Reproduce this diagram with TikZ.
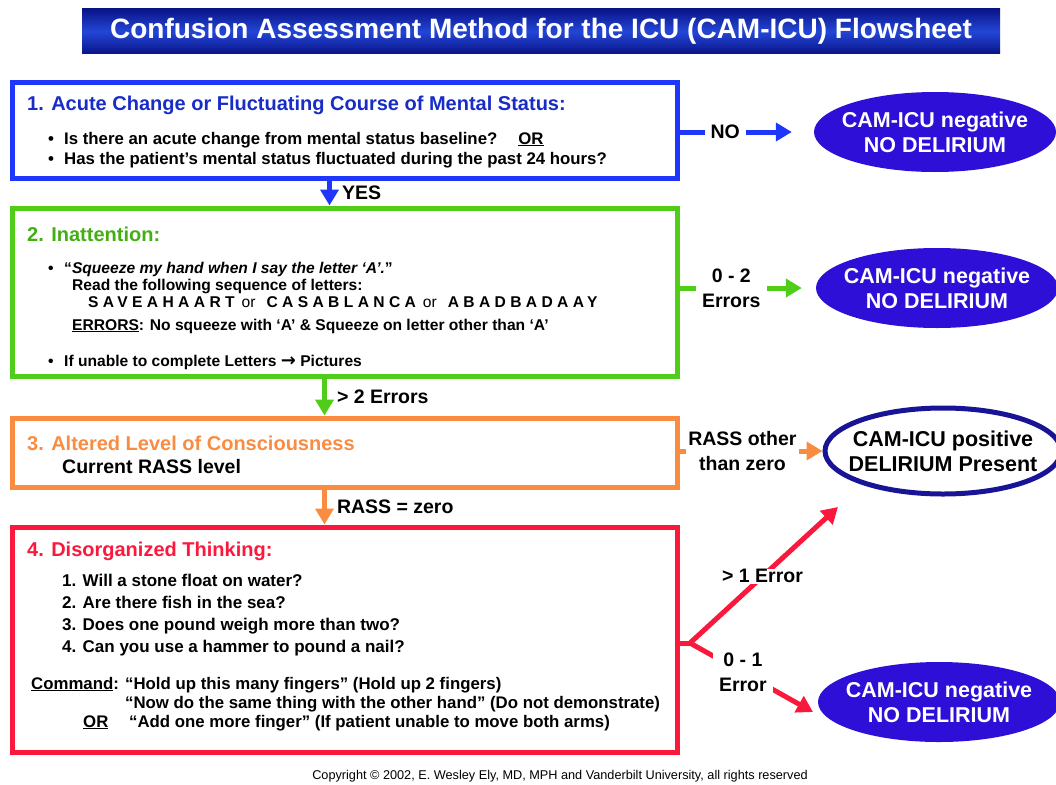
\documentclass[tikz,border=0pt]{standalone}
\usepackage{fontspec}
\setmainfont{Liberation Sans}
\newfontfamily\arrowfont{DejaVu Sans}
\usetikzlibrary{shapes.geometric,arrows.meta}
\definecolor{camblue}{RGB}{30,55,250}
\definecolor{camgreen}{RGB}{80,205,25}
\definecolor{camorange}{RGB}{250,140,65}
\definecolor{camred}{RGB}{250,25,60}
\definecolor{camnavy}{RGB}{25,20,150}
\definecolor{camviolet}{RGB}{45,15,215}
\definecolor{bardark}{RGB}{10,20,135}
\definecolor{barlight}{RGB}{35,70,215}
\newcommand{\bul}{\makebox[16pt][l]{\textbullet}}
\newcommand{\spaced}[1]{{\addfontfeature{LetterSpace=28}#1}}
\begin{document}
\begin{tikzpicture}
[x=1pt,y=-1pt,
  stepbox/.style={draw=#1,line width=5pt,fill=white,minimum width=665pt,inner sep=0pt},
  steptitle/.style={anchor=base west,inner sep=0pt,text=#1,font=\bfseries\fontsize{20}{24}\selectfont},
  steptext/.style={anchor=base west,inner sep=0pt,font=\bfseries\fontsize{16.8}{20}\selectfont},
  smalltext/.style={anchor=base west,inner sep=0pt,font=\bfseries\fontsize{15.6}{18}\selectfont},
  outcome/.style={ellipse,fill=camviolet,text=white,minimum width=242pt,minimum height=80pt,inner xsep=-8pt,inner ysep=0pt,
    align=center,font=\bfseries\fontsize{21.5}{25}\selectfont},
  flow/.style={draw=#1,line width=5pt,-{Triangle[length=16pt,width=18pt]}},
  flowlabel/.style={fill=white,inner xsep=6pt,inner ysep=1pt,align=center,font=\bfseries\fontsize{19.5}{25}\selectfont},
  downlabel/.style={right,xshift=10pt,inner sep=0pt,font=\bfseries\fontsize{19.5}{25}\selectfont}]
\useasboundingbox (0,0) rectangle (1056,784);
%% title bar
\node[minimum width=918pt,minimum height=45pt,inner sep=0pt,top color=bardark,bottom color=bardark,middle color=barlight,
  text=white,font=\bfseries\fontsize{28}{32}\selectfont] (title) at (541,31.5)
  {Confusion Assessment Method for the ICU (CAM-ICU) Flowsheet};
%% the four steps
\node[stepbox=camblue,minimum height=96pt] (box1) at (344.5,130) {};
\node[stepbox=camgreen,minimum height=168pt] (box2) at (344.5,292) {};
\node[stepbox=camorange,minimum height=69pt] (box3) at (344.5,452.5) {};
\node[stepbox=camred,minimum height=225pt] (box4) at (344.5,639.5) {};
%% step 1
\node[steptitle=camblue!80!black] (t1) at (27,110) {1. Acute Change or Fluctuating Course of Mental Status:};
\node[steptext] (b1a) at (48,144) {\bul Is there an acute change from mental status baseline?\hspace{21pt}\underline{OR}};
\node[steptext] (b1b) at (48,164) {\bul Has the patient’s mental status fluctuated during the past 24 hours?};
%% step 2
\node[steptitle=camgreen!85!black] (t2) at (27,241) {2. Inattention:};
\node[smalltext] (b2a) at (48,273) {\bul“\textit{Squeeze my hand when I say the letter ‘A’.}”};
\node[smalltext] (b2b) at (72,290) {Read the following sequence of letters:};
\node[smalltext] (b2c) at (88,307) {\spaced{SAVEAHAART}\hspace{7pt}{\mdseries or}\hspace{11pt}%
  \spaced{CASABLANCA}\hspace{7pt}{\mdseries or}\hspace{11pt}\spaced{ABADBADAAY}};
\node[smalltext] (b2d) at (72,330) {\underline{ERRORS}: No squeeze with ‘A’ \& Squeeze on letter other than ‘A’};
\node[smalltext] (b2e) at (48,366) {\bul If unable to complete Letters {\arrowfont\bfseries\fontsize{18}{18}\selectfont →} Pictures};
%% step 3
\node[steptitle=camorange] (t3) at (27,450) {3. Altered Level of Consciousness};
\node[steptext,font=\bfseries\fontsize{19.5}{22}\selectfont] (b3a) at (62,473) {Current RASS level};
%% step 4
\node[steptitle=camred] (t4) at (27,556) {4. Disorganized Thinking:};
\foreach \n/\y/\question in {1/586/Will a stone float on water?, 2/608/Are there fish in the sea?,
  3/630/Does one pound weigh more than two?, 4/652/Can you use a hammer to pound a nail?} {
  \node[steptext,font=\bfseries\fontsize{17}{20}\selectfont] (q\n) at (62,\y) {\n. \question};
}
\node[steptext] (cmd) at (31,689) {\underline{Command}:};
\node[steptext] (c1) at (125,689) {“Hold up this many fingers” (Hold up 2 fingers)};
\node[steptext] (c2) at (125,708) {“Now do the same thing with the other hand” (Do not demonstrate)};
\node[steptext] (or) at (83,727) {\underline{OR}};
\node[steptext] (c3) at (129,727) {“Add one more finger” (If patient unable to move both arms)};
%% outcomes
\node[outcome] (neg1) at (935,132) {CAM-ICU negative\\NO DELIRIUM};
\node[outcome] (neg2) at (937,288) {CAM-ICU negative\\NO DELIRIUM};
\node[outcome,fill=white,text=black,draw=camnavy,line width=5pt,minimum width=236pt,minimum height=86pt,inner xsep=-12pt] (pos) at (943,451)
  {CAM-ICU positive\\DELIRIUM Present};
\node[outcome] (neg3) at (939,702) {CAM-ICU negative\\NO DELIRIUM};
%% connectors down the steps
\draw[flow=camblue] ([xshift=-15pt]box1.south) -- node[downlabel]{YES} ([xshift=-15pt]box2.north);
\draw[flow=camgreen] ([xshift=-20pt]box2.south) -- node[downlabel]{> 2 Errors} ([xshift=-20pt]box3.north);
\draw[flow=camorange] ([xshift=-20pt]box3.south) -- node[downlabel]{RASS = zero} ([xshift=-20pt]box4.north);
%% connectors to the outcomes
\draw[flow=camblue,shorten >=22pt] (box1.east |- neg1.west) -- node[flowlabel,pos=0.34]{NO} (neg1.west);
\draw[flow=camgreen,shorten >=14pt] (box2.east |- neg2.west) -- node[flowlabel,pos=0.38]{0 - 2\\Errors} (neg2.west);
\draw[flow=camorange] (box3.east |- pos.west) -- node[flowlabel,inner xsep=2pt,pos=0.44]{RASS other\\than zero} (pos.west);
\coordinate (fork) at (690,643);
\coordinate (hiTip) at (838,507);
\coordinate (loTip) at (813,712);
\draw[camred,line width=5pt] (box4.east |- fork) -- (fork);
\draw[flow=camred] (fork) -- node[flowlabel,pos=0.49]{> 1 Error} (hiTip);
\draw[flow=camred] (fork) -- node[flowlabel,pos=0.43]{0 - 1\\Error} (loTip);
%% footer
\node[font=\fontsize{12.7}{15}\selectfont] (copy) at (560,776)
  {Copyright © 2002, E. Wesley Ely, MD, MPH and Vanderbilt University, all rights reserved};
\end{tikzpicture}
\end{document}
